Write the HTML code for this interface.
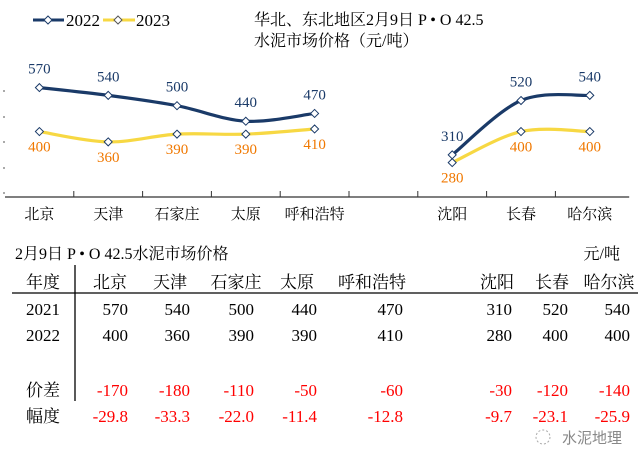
<!DOCTYPE html>
<html><head><meta charset="utf-8">
<style>
body{margin:0;background:#fff;}
svg{display:block;font-family:"Liberation Serif","Noto Serif CJK SC","Noto Sans CJK SC",serif;}
</style></head>
<body>
<svg width="639" height="467" viewBox="0 0 639 467">
<g>
 <g>
  <line x1="33" y1="20" x2="64" y2="20" stroke="#1a3a68" stroke-width="3"/>
  <path d="M48 16 L52 20 L48 24 L44 20 Z" fill="#fff" stroke="#1a3a68" stroke-width="1"/>
  <text x="66" y="26" font-size="17" fill="#000">2022</text>
 </g>
 <g>
  <line x1="103" y1="20" x2="135" y2="20" stroke="#f7d843" stroke-width="3"/>
  <path d="M118 16 L122 20 L118 24 L114 20 Z" fill="#fff" stroke="#555" stroke-width="1"/>
  <text x="136" y="26" font-size="17" fill="#000">2023</text>
 </g>
</g>
<text x="254" y="25" font-size="16">华北、东北地区2月9日  P • O 42.5</text>
<text x="254" y="46" font-size="16">水泥市场价格（元/吨）</text>
<g id="plot"></g>
<g id="table"></g>
<g>
 <circle cx="543" cy="437" r="7" fill="none" stroke="#aaa" stroke-width="1" stroke-dasharray="2 2"/>
 <text x="562" y="443" font-size="15" fill="#888" font-family="Liberation Sans,Noto Sans CJK SC,sans-serif">水泥地理</text>
</g>
</svg>
<script>
const categories=["北京","天津","石家庄","太原","呼和浩特","","沈阳","长春","哈尔滨"];
const series2022=[570,540,500,440,470,null,310,520,540];
const series2023=[400,360,390,390,410,null,280,400,400];
const diff=[-170,-180,-110,-50,-60,null,-30,-120,-140];
const pct=["-29.8","-33.3","-22.0","-11.4","-12.8",null,"-9.7","-23.1","-25.9"];
const NS="http://www.w3.org/2000/svg";
const plot=document.getElementById('plot');
const x0=5,slot=68.8,axisY=197;
function xs(i){return x0+slot*(i+0.5);}
function ys(v){return 235-0.2586*v;}
function mk(tag,attrs,parent){const e=document.createElementNS(NS,tag);for(const k in attrs)e.setAttribute(k,attrs[k]);parent.appendChild(e);return e;}
const ax=mk('line',{x1:x0,y1:axisY,x2:x0+slot*9+5,y2:axisY,stroke:'#333','stroke-width':1.3},plot);


for(let i=1;i<9;i++){const t=mk('line',{x1:x0+slot*i,y1:axisY-6,x2:x0+slot*i,y2:axisY,stroke:'#333','stroke-width':1},plot);

}
[91,117,142,168,193].forEach(y=>{mk('line',{x1:3,y1:y,x2:5,y2:y,stroke:'#555'},plot);});
categories.forEach((c,i)=>{if(!c)return;const t=mk('text',{x:xs(i),y:219,'text-anchor':'middle','font-size':15},plot);t.textContent=c;

});
function smooth(pts){let d=`M${pts[0][0]} ${pts[0][1]}`;for(let i=0;i<pts.length-1;i++){const p0=pts[i-1]||pts[i],p1=pts[i],p2=pts[i+1],p3=pts[i+2]||p2;const t=0.25;
d+=` C${p1[0]+(p2[0]-p0[0])*t/1.5} ${p1[1]+(p2[1]-p0[1])*t/1.5} ${p2[0]-(p3[0]-p1[0])*t/1.5} ${p2[1]-(p3[1]-p1[1])*t/1.5} ${p2[0]} ${p2[1]}`;}return d;}
function drawSeries(vals,color,name,labColor,above){
 const segs=[];let cur=[];
 vals.forEach((v,i)=>{if(v==null){if(cur.length)segs.push(cur);cur=[];}else cur.push([xs(i),ys(v)]);});
 if(cur.length)segs.push(cur);
 segs.forEach(s=>{const p=mk('path',{d:smooth(s),fill:'none',stroke:color,'stroke-width':3.2},plot);
 
 });
 vals.forEach((v,i)=>{if(v==null)return;const x=xs(i),y=ys(v);
 const m=mk('path',{d:`M${x} ${y-4} L${x+4} ${y} L${x} ${y+4} L${x-4} ${y} Z`,fill:'#fff',stroke:'#1a3a68','stroke-width':1},plot);
 
 
 const t=mk('text',{x:x,y:above?y-14:y+20,'text-anchor':'middle','font-size':15,fill:labColor},plot);t.textContent=v;
 
 });
}
drawSeries(series2023,'#f7d843','series-2023','#f07800',false);
drawSeries(series2022,'#1a3a68','series-2022','#1a3a68',true);
const tb=document.getElementById('table');
const tt=mk('text',{x:15,y:259,'font-size':16},tb);tt.textContent='2月9日 P • O 42.5水泥市场价格';


const un=mk('text',{x:620,y:259,'font-size':16,'text-anchor':'end'},tb);un.textContent='元/吨';


mk('line',{x1:12,y1:293,x2:638,y2:293,stroke:'#000','stroke-width':1.3},tb);
mk('line',{x1:75,y1:265,x2:75,y2:401,stroke:'#000','stroke-width':1.3},tb);
const hdrX=[110,170,236,297,372,null,497,552,609];
const valX=[128,190,254,317,403,null,512,568,630];
const rows=[["年度",288],["2021",315],["2022",341],["价差",396],["幅度",422]];
rows.forEach(r=>{const t=mk('text',{x:43,y:r[1],'text-anchor':'middle','font-size':17},tb);t.textContent=r[0];

});
categories.forEach((c,i)=>{if(!c)return;
 const h=mk('text',{x:hdrX[i],y:288,'text-anchor':'middle','font-size':17},tb);h.textContent=c;
 
 
 [[series2022[i],315,'#000'],[series2023[i],341,'#000'],[diff[i],396,'#ff0000'],[pct[i],422,'#ff0000']].forEach(a=>{
  const t=mk('text',{x:valX[i],y:a[1],'text-anchor':'end','font-size':17,fill:a[2]},tb);t.textContent=a[0];
  
  });
});
</script>
</body></html>
